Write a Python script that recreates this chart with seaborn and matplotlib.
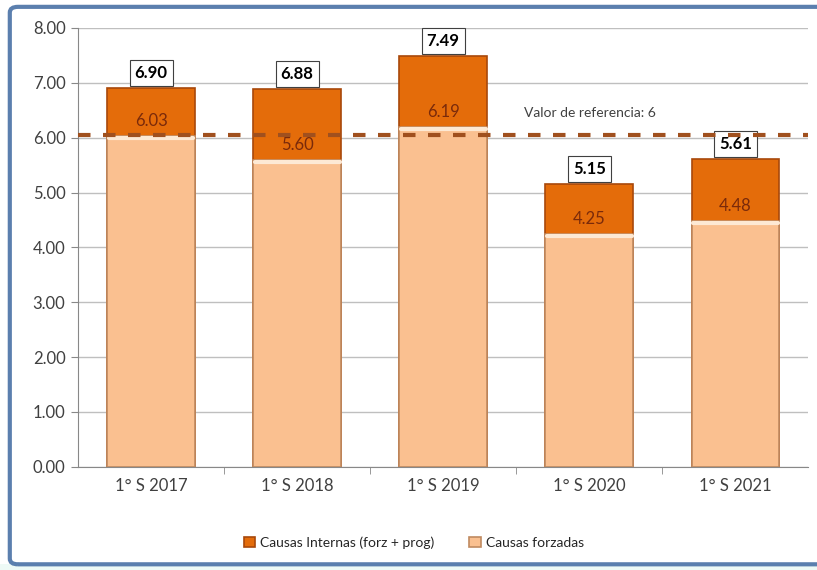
import pandas as pd
import matplotlib.pyplot as plt
import seaborn as sns
from matplotlib.patches import FancyBboxPatch, Rectangle

# Datos
periodos = ['1° S 2017', '1° S 2018', '1° S 2019', '1° S 2020', '1° S 2021']
total_internas = [6.90, 6.88, 7.49, 5.15, 5.61]
causas_forzadas = [6.03, 5.60, 6.19, 4.25, 4.48]
valor_referencia = 6

df = pd.DataFrame({'periodo': periodos, 'total': total_internas, 'forzadas': causas_forzadas})

sns.set_style('white')
plt.rcParams['font.family'] = ['Lato', 'DejaVu Sans']

fig = plt.figure(figsize=(8.17, 5.70), dpi=100)
ax = fig.add_axes([0.0955, 0.181, 0.894, 0.770])

# marco de la figura
fig.patches.append(Rectangle((0, 0), 1, 0.01, transform=fig.transFigure, facecolor='#eefaf6', edgecolor='none'))
fig.patches.append(FancyBboxPatch((0.012, 0.01), 1.1, 0.978, boxstyle='round,pad=0,rounding_size=0.01',
                                  transform=fig.transFigure, fill=False, edgecolor='#5b7fae', linewidth=3))

sns.barplot(data=df, x='periodo', y='total', color='#e46c0a', saturation=1, width=0.6,
            edgecolor='#a8480a', linewidth=1.2, ax=ax, label='Causas Internas (forz + prog)')
sns.barplot(data=df, x='periodo', y='forzadas', color='#fac090', saturation=1, width=0.6,
            edgecolor='#c08a60', linewidth=1.2, ax=ax, label='Causas forzadas')

# banda clara arriba de las causas forzadas
for i, v in enumerate(causas_forzadas):
    ax.plot([i - 0.29, i + 0.29], [v - 0.04, v - 0.04], color='#fde9d4', linewidth=3, zorder=3)

ax.axhline(valor_referencia + 0.05, color='#a0501e', linestyle=(0, (3, 3)), linewidth=3, zorder=4)
ax.text(2.55, 6.45, 'Valor de referencia: 6', fontsize=10, color='#404040', va='center')

for i, (t, f) in enumerate(zip(total_internas, causas_forzadas)):
    ax.annotate(f'{t:.2f}', (i, t), xytext=(0, 5), textcoords='offset points', ha='center', va='bottom',
                fontsize=12, fontweight='bold', color='black',
                bbox=dict(boxstyle='square,pad=0.3', facecolor='white', edgecolor='#404040', linewidth=0.8))
    ax.annotate(f'{f:.2f}', (i, f), xytext=(0, 5), textcoords='offset points', ha='center', va='bottom',
                fontsize=12, color='#7a2a0a', zorder=5)

ax.set_ylim(0, 8)
ax.set_xlim(-0.5, 4.5)
ax.set_yticks([0, 1, 2, 3, 4, 5, 6, 7, 8])
ax.set_yticklabels([f'{v:.2f}' for v in range(9)])
ax.set_xlabel('')
ax.set_ylabel('')
ax.yaxis.grid(True, color='#bfbfbf', linewidth=1)
ax.set_axisbelow(True)
ax.tick_params(axis='both', labelsize=12, colors='#404040', length=0, pad=8)
ax.tick_params(axis='y', length=5, color='#888888', left=True, pad=4)
ax.set_xticks([0.5, 1.5, 2.5, 3.5], minor=True)
ax.tick_params(axis='x', which='minor', length=5, color='#888888', bottom=True)
for s in ['top', 'right']:
    ax.spines[s].set_visible(False)
for s in ['left', 'bottom']:
    ax.spines[s].set_color('#888888')

ax.legend(loc='upper center', bbox_to_anchor=(0.46, -0.13), ncol=2, frameon=False, fontsize=10,
          handlelength=0.8, handleheight=0.8, columnspacing=2.5, handletextpad=0.4)

fig.savefig('out.png', dpi=100)
